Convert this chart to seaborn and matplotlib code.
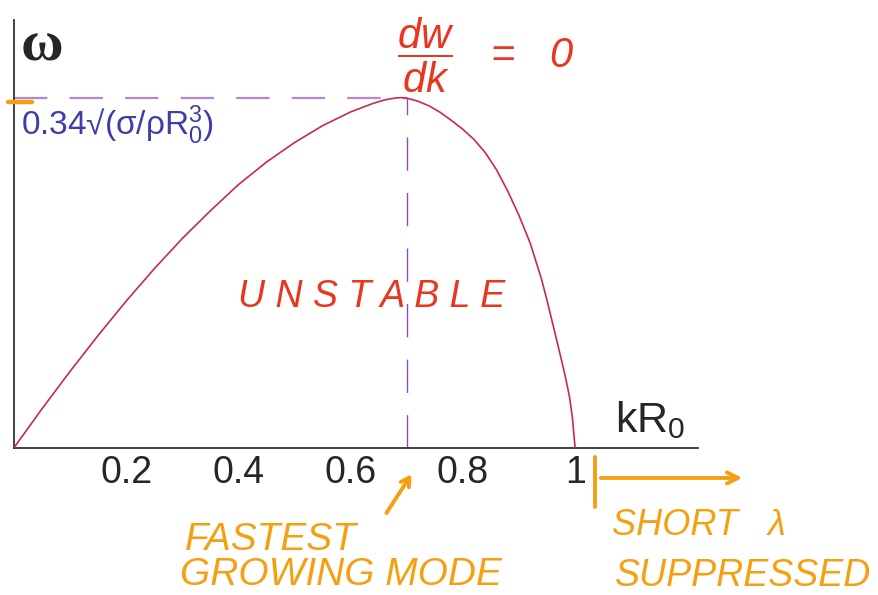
import numpy as np
import seaborn as sns
import matplotlib.pyplot as plt

# growth rate omega (units of sqrt(sigma/rho R0^3)) vs kR0
kR0 = [0.0, 0.05, 0.10, 0.15, 0.20, 0.25, 0.30, 0.35, 0.40, 0.45, 0.50, 0.55, 0.60,
       0.64, 0.66, 0.68, 0.69, 0.70, 0.72, 0.74, 0.76, 0.78, 0.80, 0.82, 0.84, 0.86,
       0.88, 0.90, 0.92, 0.94, 0.95, 0.96, 0.97, 0.98, 0.985, 0.99, 0.995, 1.0]
omega = [0.0, 0.038, 0.0745, 0.1095, 0.143, 0.1745, 0.204, 0.231, 0.2565, 0.2785, 0.2975,
         0.314, 0.3274, 0.3357, 0.339, 0.341, 0.3413, 0.3408, 0.3378, 0.3332, 0.3268,
         0.3189, 0.3104, 0.3004, 0.2876, 0.2709, 0.2501, 0.2264, 0.1994, 0.1646, 0.1435,
         0.121, 0.0985, 0.0755, 0.063, 0.0495, 0.030, 0.0]

k_max = 0.70
w_max = 0.341
xticks = [0.2, 0.4, 0.6, 0.8, 1]
xticklabels = ["0.2", "0.4", "0.6", "0.8", "1"]

sns.set_style("white")
plt.rcParams["font.family"] = ["Liberation Sans", "DejaVu Sans"]
plt.rcParams["mathtext.fontset"] = "custom"
plt.rcParams["mathtext.rm"] = "Liberation Sans"
plt.rcParams["mathtext.it"] = "Liberation Sans:italic"
plt.rcParams["lines.scale_dashes"] = False

RED = "#e8361f"
ORANGE = "#f5a012"

fig = plt.figure(figsize=(8.79, 5.95), dpi=100)
ax = fig.add_axes([14 / 879, 1 - 447.7 / 595, (698 - 14) / 879, (447.7 - 20) / 595])

sns.lineplot(x=kR0, y=omega, ax=ax, color="#c62a52", linewidth=1.2, zorder=3)

# max growth guide lines
ax.plot([0, k_max], [w_max, w_max], color="#b783d6", lw=1.6, dashes=(24, 16), zorder=2)
ax.plot([k_max, k_max], [0, w_max], color="#8a4cc0", lw=1.0, dashes=(24, 16), zorder=2)

ax.set_xlim(0, 1.219)
ax.set_ylim(0, 0.417)
sns.despine(ax=ax)
for s in ["left", "bottom"]:
    ax.spines[s].set_color("#333333")
    ax.spines[s].set_linewidth(1.3)
ax.set_xticks(xticks)
ax.set_xticklabels(xticklabels)
ax.set_yticks([])
ax.tick_params(axis="x", direction="in", length=4, width=1, color="#333333",
               labelsize=27, pad=5)

ax.text(1.071, 0.0153, r"kR$_\mathregular{0}$", fontsize=31, va="baseline", ha="left")
ax.text(0.012, 0.378, "ω", fontsize=42, fontweight="bold", family="Liberation Serif",
        va="baseline", ha="left")
ax.text(0.0125, 0.305, r"0.34√(σ/ρ$\mathregular{R_0^3}$)", fontsize=24,
        color="#3e3ea8", va="baseline", ha="left")

# hand-drawn style notes
ax.plot([-0.011, 0.032], [0.337, 0.337], color=ORANGE, lw=3.2,
        solid_capstyle="round", clip_on=False, zorder=5)
ax.text(0.84, 0.382, r"$\dfrac{dw}{dk}$   =   0", fontsize=30, color=RED,
        style="italic", ha="center", va="center")
ax.text(0.638, 0.147, "U N S T A B L E", fontsize=27, color=RED, style="italic",
        ha="center", va="center")
ax.text(0.305, -0.090, "FASTEST", fontsize=28, color=ORANGE, style="italic",
        ha="left", va="center")
ax.text(0.296, -0.124, "GROWING MODE", fontsize=28, color=ORANGE, style="italic",
        ha="left", va="center")
ax.text(1.066, -0.0754, "SHORT   λ", fontsize=26, color=ORANGE, style="italic",
        ha="left", va="center")
ax.text(1.071, -0.125, "SUPPRESSED", fontsize=27, color=ORANGE, style="italic",
        ha="left", va="center")
ax.annotate("", xy=(0.711, -0.0237), xytext=(0.661, -0.066), annotation_clip=False,
            arrowprops=dict(arrowstyle="->,head_length=0.6,head_width=0.35",
                            color=ORANGE, lw=2.8))
ax.plot([1.0357, 1.0357], [-0.0091, -0.0578], color=ORANGE, lw=2.8,
        solid_capstyle="round", clip_on=False)
ax.annotate("", xy=(1.303, -0.0295), xytext=(1.041, -0.0295), annotation_clip=False,
            arrowprops=dict(arrowstyle="->,head_length=0.8,head_width=0.4",
                            color=ORANGE, lw=2.8))

fig.savefig("out.png", dpi=100)
